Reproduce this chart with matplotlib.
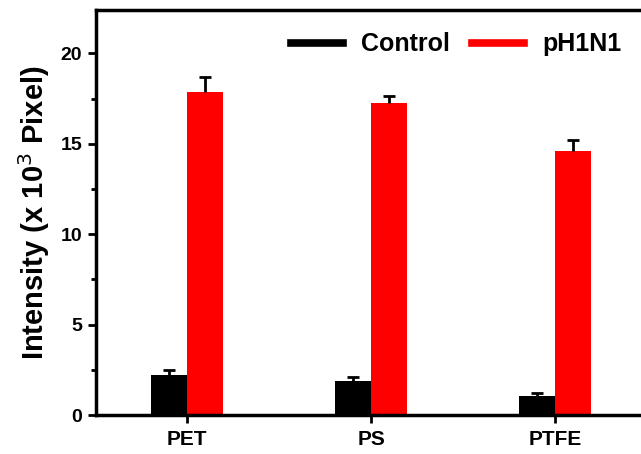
import matplotlib
matplotlib.use('Agg')
import matplotlib.pyplot as plt
from matplotlib.lines import Line2D
import numpy as np

categories = ['PET', 'PS', 'PTFE']
control = [2.2, 1.88, 1.05]
control_err = [0.28, 0.22, 0.15]
ph1n1 = [17.85, 17.28, 14.58]
ph1n1_err = [0.85, 0.38, 0.65]

plt.rcParams['font.family'] = ['Liberation Sans', 'DejaVu Sans']

fig = plt.figure(figsize=(6.41, 4.54), dpi=100)
ax = fig.add_axes([0.1498, 0.0859, 0.8502, 0.8921])

x = np.arange(len(categories))
w = 0.195
ax.bar(x - w/2, control, w, color='black', label='Control', zorder=2)
ax.bar(x + w/2, ph1n1, w, color='#ff0000', label='pH1N1', zorder=2)

# one-sided (upper) error bars
for xs, ys, es in [(x - w/2, control, control_err), (x + w/2, ph1n1, ph1n1_err)]:
    line, caps, bars = ax.errorbar(xs, ys, yerr=[np.zeros(3), es], fmt='none',
                                   ecolor='black', elinewidth=2, capsize=4.3,
                                   capthick=2, zorder=3)
    caps[0].set_visible(False)

ax.set_xlim(-0.495, 2.467)
ax.set_ylim(0, 22.4)
ax.set_xticks(x)
ax.set_xticklabels(categories, fontweight='bold', fontsize=15)
ax.set_yticks([0, 5, 10, 15, 20])
ax.set_yticks([2.5, 7.5, 12.5, 17.5], minor=True)
for lab in ax.get_yticklabels():
    lab.set_fontweight('bold')
ax.tick_params(axis='y', labelsize=14, width=2, length=6, direction='out', pad=4)
ax.tick_params(axis='y', which='minor', width=2, length=3.5)
ax.tick_params(axis='x', width=2, length=6, direction='out', pad=5)
ax.set_ylabel('Intensity (x 10$^3$ Pixel)', fontsize=21, fontweight='bold', labelpad=6)
for s in ['left', 'bottom', 'top']:
    ax.spines[s].set_linewidth(2.5)
ax.spines['right'].set_visible(False)

handles = [Line2D([], [], color='black', lw=5.5), Line2D([], [], color='#ff0000', lw=5.5)]
ax.legend(handles, ['Control', 'pH1N1'], loc='upper right', ncol=2, frameon=False,
          prop={'weight': 'bold', 'size': 18}, handlelength=2.1, handletextpad=0.7,
          columnspacing=0.9, bbox_to_anchor=(1.005, 1.0))

fig.savefig('out.png', dpi=100)
